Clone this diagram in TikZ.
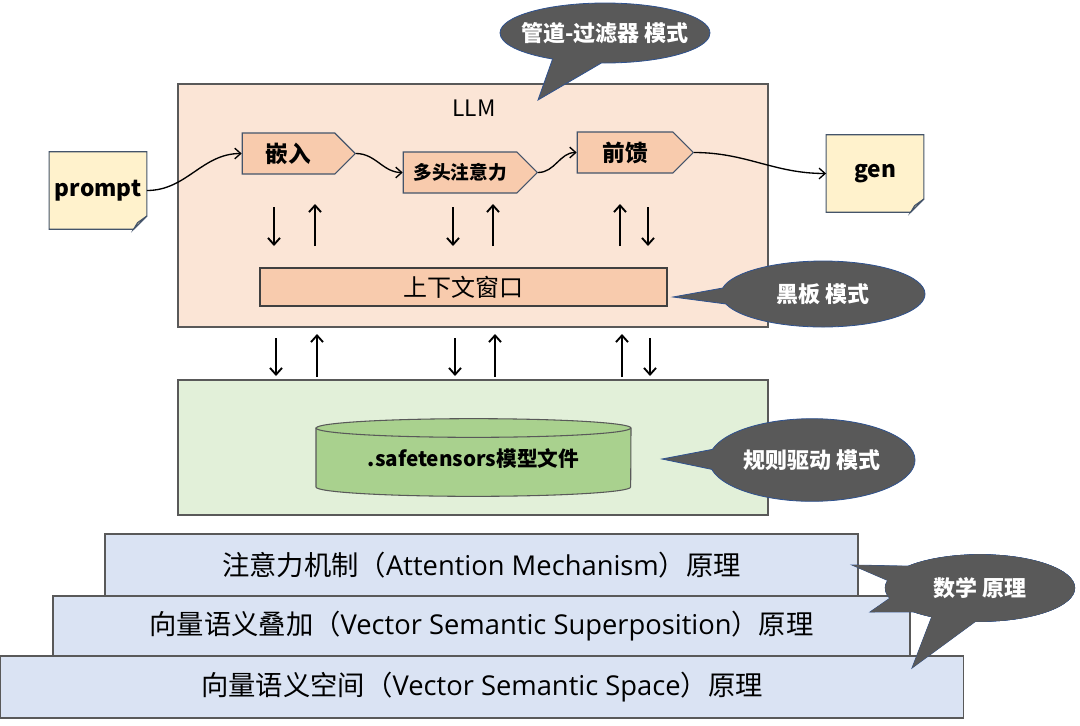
\documentclass[tikz,border=0pt]{standalone}
\usepackage{fontspec}
\setmainfont{Noto Sans CJK SC}
\newfontfamily\latinfont{Open Sans}
\usetikzlibrary{shapes.symbols, shapes.callouts, arrows, arrows.meta}

\definecolor{llmfill}{HTML}{FBE5D6}
\definecolor{stagefill}{HTML}{F8CBAD}
\definecolor{stageline}{HTML}{44546A}
\definecolor{boxline}{HTML}{595959}
\definecolor{storefill}{HTML}{E2F0D9}
\definecolor{cylfill}{HTML}{A9D18E}
\definecolor{layerfill}{HTML}{DAE3F3}
\definecolor{docfill}{HTML}{FFF2CC}
\definecolor{foldfill}{HTML}{D8CCA4}
\definecolor{bubblefill}{HTML}{595959}
\definecolor{bubbleline}{HTML}{2F528F}

\begin{document}
\begin{tikzpicture}[x=0.75pt, y=-0.75pt, inner sep=0pt,
  box/.style={draw=boxline, line width=0.8pt},
  stage/.style={signal, signal to=east, signal pointer angle=90, draw=stageline, fill=stagefill,
    line width=0.8pt, minimum height=30.75pt, font=\bfseries\fontsize{17}{17}\selectfont},
  docline/.style={draw=stageline, line width=0.8pt},
  doc/.style={minimum width=73pt, minimum height=57.75pt, font=\bfseries\fontsize{17}{17}\selectfont},
  layer/.style={box, fill=layerfill, font=\fontsize{20.5}{20.5}\selectfont},
  bubble/.style={ellipse callout, callout pointer arc=28, fill=bubblefill},
  btext/.style={text=white, font=\bfseries\fontsize{16.5}{16.5}\selectfont},
  flow/.style={-{Straight Barb[length=5pt,width=9pt]}, line width=1.4pt},
  wave/.style={-{Straight Barb[length=4.5pt,width=8pt]}, line width=1pt, out=0, in=180}]
  \useasboundingbox (0,0) rectangle (1080,725);

  % containers
  \node[box, fill=llmfill, minimum width=442.5pt, minimum height=182.25pt] (llm) at (473,205.5) {};
  \node[font=\fontsize{17}{17}\selectfont] (llmlabel) at (474,108) {LLM};
  \node[box, fill=storefill, minimum width=442.5pt, minimum height=101.25pt] (store) at (473,447.5) {};

  % pipeline
  \node[stage, minimum width=84.75pt] (emb) at (288.5,153.5) {嵌入};
  \node[stage, minimum width=100.5pt, font=\bfseries\fontsize{14}{14}\selectfont] (mha) at (460,172.5) {多头注意力};
  \node[stage, minimum width=87pt] (ffn) at (625,152.5) {前馈};
  \node[box, draw=black!75, fill=stagefill, minimum width=305.25pt, minimum height=28.5pt,
    font=\fontsize{18}{18}\selectfont] (ctx) at (463.5,287) {上下文窗口};

  % input / output documents
  \node[doc] (prompt) at (98,190.5) {};
  \node[doc] (gen) at (875,173.5) {};
  \foreach \d in {prompt, gen} {
    \draw[docline, fill=docfill] (\d.north west) -- (\d.north east) -- ([yshift=10pt]\d.south east)
      -- ([xshift=-10pt]\d.south east) -- (\d.south west) -- cycle;
    \draw[docline, fill=foldfill] ([yshift=10pt]\d.south east) -- ([xshift=-10pt]\d.south east)
      -- ([xshift=-7pt,yshift=5pt]\d.south east) -- cycle;
  }
  \node[doc] at (prompt) {prompt};
  \node[doc] at (gen) {gen};

  \draw[wave] (prompt.east) to (emb.west);
  \draw[wave] (emb.east) to (mha.west);
  \draw[wave] (mha.east) to (ffn.west);
  \draw[wave] (ffn.east) to (gen.west);

  % read / write arrows
  \foreach \x in {274, 453, 648} {
    \draw[flow] (\x,207) -- (\x,246);
    \draw[flow] (\x+2,338) -- (\x+2,376);
  }
  \foreach \x in {315, 493, 620} {
    \draw[flow] (\x,246) -- (\x,204);
    \draw[flow] (\x+2,377) -- (\x+2,334);
  }

  % model file
  \draw[box, fill=cylfill] (316,428) -- (316,487) arc[start angle=180, end angle=360, x radius=118pt, y radius=7pt]
    -- (631,428) arc[start angle=0, end angle=180, x radius=118pt, y radius=7pt] -- cycle;
  \draw[box] (316,428) arc[start angle=180, end angle=360, x radius=118pt, y radius=7pt];
  \node[font=\bfseries\fontsize{15.5}{15.5}\selectfont] (weights) at (473.5,459) {.safetensors模型文件};

  % theory layers
  \node[layer, minimum width=564.75pt, minimum height=46.5pt] (attn) at (481.5,565)
    {注意力机制（{\latinfont Attention Mechanism}）原理};
  \node[layer, minimum width=642.75pt, minimum height=45pt] (superpos) at (481.5,626)
    {向量语义叠加（{\latinfont Vector Semantic Superposition}）原理};
  \node[layer, minimum width=722pt, minimum height=46.5pt] (space) at (482,687)
    {向量语义空间（{\latinfont Vector Semantic Space}）原理};

  % callouts
  \coordinate (pipetip) at (538,100);
  \coordinate (boardtip) at (673,297);
  \coordinate (ruletip) at (662,459);
  \coordinate (mt1) at (852,565);
  \coordinate (mt2) at (870,612);
  \coordinate (mt3) at (912,668);

  \node[bubble, draw=bubbleline, line width=0.6pt, minimum width=157.5pt, minimum height=45pt,
    callout absolute pointer=(pipetip)] (pipe) at (605,33) {};
  \node[btext] at (pipe) {管道-过滤器 模式};
  \node[bubble, draw=bubbleline, line width=0.6pt, minimum width=153pt, minimum height=49.5pt,
    callout absolute pointer=(boardtip)] (board) at (823,294) {};
  \node[btext] at (board) {黑板 模式};
  \node[bubble, draw=bubbleline, line width=0.6pt, minimum width=154.5pt, minimum height=62pt,
    callout absolute pointer=(ruletip)] (rule) at (812,460) {};
  \node[btext] at (rule) {规则驱动 模式};

  \foreach \t in {mt1, mt2, mt3}
    \node[bubble, draw=bubbleline, line width=0.6pt, minimum width=142pt, minimum height=50pt,
      callout absolute pointer=(\t)] at (980,588) {};
  \foreach \t in {mt1, mt2, mt3}
    \node[bubble, minimum width=142pt, minimum height=50pt, callout absolute pointer=(\t)] at (980,588) {};
  \node[btext] (math) at (980,588) {数学 原理};
\end{tikzpicture}
\end{document}
